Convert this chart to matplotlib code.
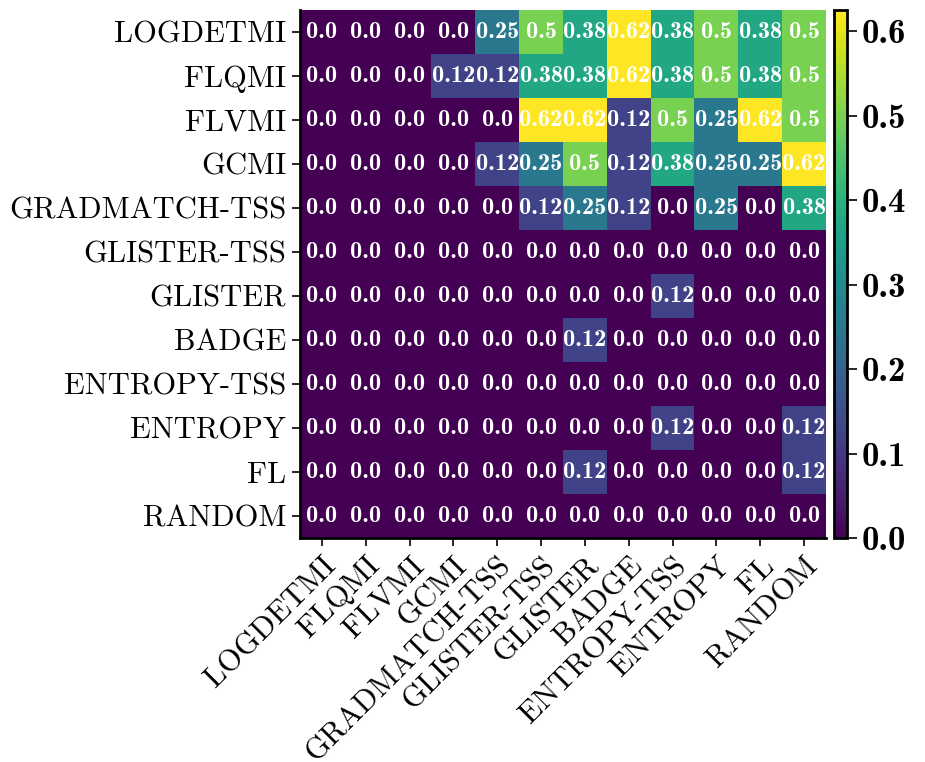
import numpy as np
import matplotlib
matplotlib.use("Agg")
import matplotlib.pyplot as plt

# ---------- Date ----------
methods = ['LOGDETMI', 'FLQMI', 'FLVMI', 'GCMI', 'GRADMATCH-TSS', 'GLISTER-TSS',
           'GLISTER', 'BADGE', 'ENTROPY-TSS', 'ENTROPY', 'FL', 'RANDOM']

row_logdetmi = [0, 0, 0, 0, 0.25, 0.5, 0.375, 0.625, 0.375, 0.5, 0.375, 0.5]
row_flqmi = [0, 0, 0, 0.125, 0.125, 0.375, 0.375, 0.625, 0.375, 0.5, 0.375, 0.5]
row_flvmi = [0, 0, 0, 0, 0, 0.625, 0.625, 0.125, 0.5, 0.25, 0.625, 0.5]
row_gcmi = [0, 0, 0, 0, 0.125, 0.25, 0.5, 0.125, 0.375, 0.25, 0.25, 0.625]
row_gradmatch_tss = [0, 0, 0, 0, 0, 0.125, 0.25, 0.125, 0, 0.25, 0, 0.375]
row_glister_tss = [0] * 12
row_glister = [0, 0, 0, 0, 0, 0, 0, 0, 0.125, 0, 0, 0]
row_badge = [0, 0, 0, 0, 0, 0, 0.125, 0, 0, 0, 0, 0]
row_entropy_tss = [0] * 12
row_entropy = [0, 0, 0, 0, 0, 0, 0, 0, 0.125, 0, 0, 0.125]
row_fl = [0, 0, 0, 0, 0, 0, 0.125, 0, 0, 0, 0, 0.125]
row_random = [0] * 12

data = np.array([row_logdetmi, row_flqmi, row_flvmi, row_gcmi, row_gradmatch_tss,
                 row_glister_tss, row_glister, row_badge, row_entropy_tss,
                 row_entropy, row_fl, row_random], dtype=float)

cbar_ticks = [0.0, 0.1, 0.2, 0.3, 0.4, 0.5, 0.6]

# ---------- Stil ----------
plt.rcParams['font.family'] = 'cmr10'
plt.rcParams['axes.formatter.use_mathtext'] = True

fig = plt.figure(figsize=(9.25, 7.62), dpi=100)
ax = fig.add_axes([300 / 925, 1 - 538 / 762, 526 / 925, 528 / 762])
cax = fig.add_axes([834 / 925, 1 - 538 / 762, 13 / 925, 528 / 762])

im = ax.imshow(data, cmap='viridis', vmin=0, vmax=data.max(), aspect='auto',
               interpolation='nearest')

# valori in celule
for i in range(data.shape[0]):
    for j in range(data.shape[1]):
        ax.text(j, i, str(round(data[i, j], 2)), ha='center', va='center',
                color='white', fontsize=17.5, family='cmb10')

ax.set_xticks(range(len(methods)))
ax.set_yticks(range(len(methods)))
ax.set_xticklabels(methods, rotation=45, ha='right', rotation_mode='anchor',
                   fontsize=22)
ax.set_yticklabels(methods, fontsize=22)
ax.tick_params(length=6, width=1.2, pad=4)
for side in ['top', 'right']:
    ax.spines[side].set_visible(False)
for side in ['left', 'bottom']:
    ax.spines[side].set_linewidth(2)

cb = fig.colorbar(im, cax=cax, ticks=cbar_ticks)
cb.outline.set_linewidth(2)
cb.ax.set_yticklabels([f'{t:.1f}' for t in cbar_ticks], family='cmb10', fontsize=25)
cb.ax.tick_params(length=7, width=1.2)

fig.savefig('out.png', dpi=100)
